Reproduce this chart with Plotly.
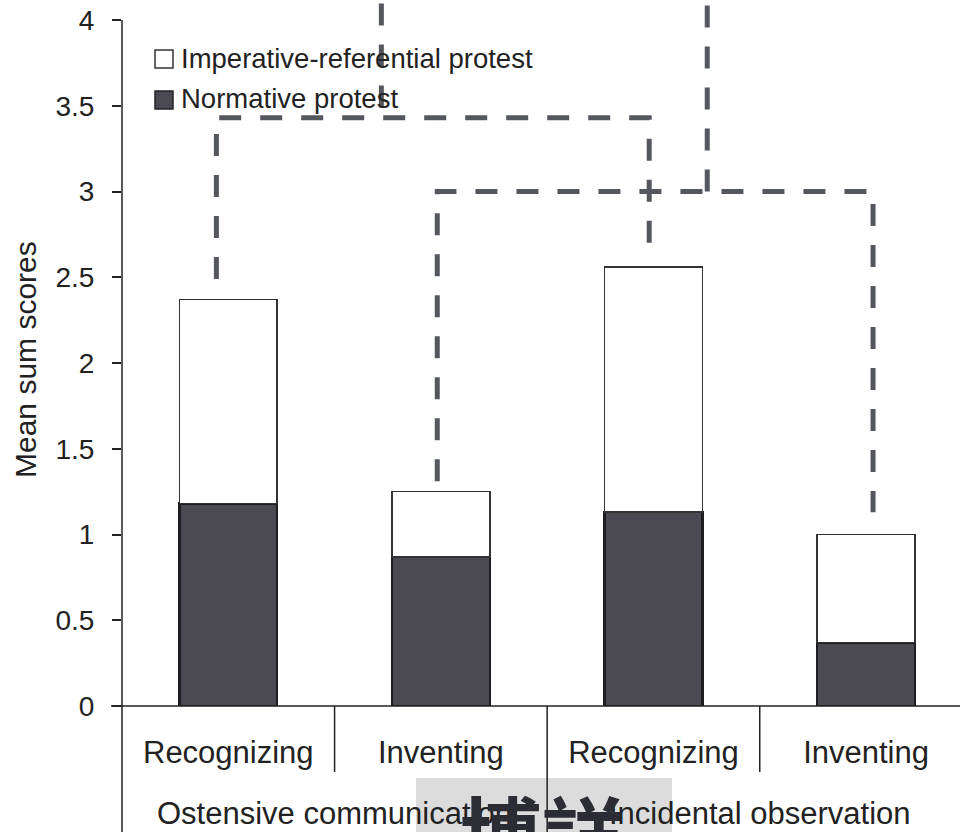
import plotly.graph_objects as go

# ---- data -------------------------------------------------------------
conditions = ["Recognizing", "Inventing", "Recognizing", "Inventing"]
groups = ["Ostensive communication", "Incidental observation"]
normative = [1.18, 0.87, 1.13, 0.37]
imperative_referential = [1.19, 0.38, 1.43, 0.63]
series_names = ["Imperative-referential protest", "Normative protest"]
y_ticks = [0, 0.5, 1, 1.5, 2, 2.5, 3, 3.5, 4]
y_tick_text = ["0", "0.5", "1", "1.5", "2", "2.5", "3", "3.5", "4"]
y_title = "Mean sum scores"
watermark_text = "博詳"

# ---- geometry / style -------------------------------------------------
W, H = 960, 832
ML, MR, MT, MB = 122, 0, 0, 126
PW, PH = W - ML - MR, H - MT - MB
X_RANGE = [-0.5, 3.442]
Y_RANGE = [0, 4.117]
FONT = "Liberation Sans, Arial, Helvetica, sans-serif"
TXT = "#222222"
DARK = "#4b4a52"
DASH_COL = "#55575e"

x = list(range(len(conditions)))
totals = [a + b for a, b in zip(normative, imperative_referential)]


def px_x(p):
    """pixel column -> paper x"""
    return (p - ML) / PW


def px_y(p):
    """pixel row -> paper y"""
    return (MT + PH - p) / PH


def data_x_to_paper(v):
    return (v - X_RANGE[0]) / (X_RANGE[1] - X_RANGE[0])


fig = go.Figure()
fig.add_trace(go.Bar(
    x=x, y=normative, name=series_names[1], width=0.46,
    marker=dict(color=DARK, line=dict(color="#1e1e22", width=2.5)),
))
fig.add_trace(go.Bar(
    x=x, y=imperative_referential, name=series_names[0], width=0.46,
    marker=dict(color="#ffffff", line=dict(color="#333333", width=1.5)),
))

shapes = []

# watermark patch behind the group labels
shapes.append(dict(type="rect", xref="paper", yref="paper",
                   x0=px_x(416), x1=px_x(672), y0=px_y(778), y1=px_y(H + 2),
                   fillcolor="#dcdcdc", line=dict(width=0), layer="below"))

axis_line = dict(color="#222222", width=1.5)
# y axis line continuing down as the left group divider
shapes.append(dict(type="line", xref="paper", yref="paper",
                   x0=0, x1=0, y0=4 / Y_RANGE[1], y1=px_y(H + 2), line=axis_line))
# x axis line
shapes.append(dict(type="line", xref="paper", yref="paper",
                   x0=px_x(111), x1=1, y0=0, y1=0, line=axis_line))
# divider between the two groups (full height)
shapes.append(dict(type="line", xref="paper", yref="paper",
                   x0=data_x_to_paper(1.5), x1=data_x_to_paper(1.5),
                   y0=0, y1=px_y(H + 2), line=axis_line))
# dividers between conditions within a group
for xv in (0.5, 2.5):
    shapes.append(dict(type="line", xref="paper", yref="paper",
                       x0=data_x_to_paper(xv), x1=data_x_to_paper(xv),
                       y0=0, y1=px_y(772), line=axis_line))

# significance brackets (dashed)
dash_line = dict(color=DASH_COL, width=5, dash="22px,19px")
brackets = [
    # (left bar, right bar, x nudge left, x nudge right, height, leg gaps)
    (0, 2, -0.056, -0.02, 3.43, 0.12, 0.07),
    (1, 3, -0.017, 0.033, 3.00, 0.06, 0.13),
]
for i, j, dl, dr, top, gl, gr in brackets:
    xl, xr = x[i] + dl, x[j] + dr
    yl, yr = totals[i] + gl, totals[j] + gr
    shapes.append(dict(type="path", xref="x", yref="y",
                       path=f"M {xl},{yl} L {xl},{top} L {xr},{top} L {xr},{yr}",
                       line=dash_line))
# connectors rising from the brackets
for xc, yb in ((0.72, 3.49), (2.253, 3.0)):
    shapes.append(dict(type="line", xref="x", yref="y",
                       x0=xc, x1=xc, y0=yb, y1=Y_RANGE[1] + 0.05, line=dash_line))

# legend squares
for cy, fill, lc in ((59, "#ffffff", "#333333"), (100, DARK, "#222222")):
    shapes.append(dict(type="rect", xref="paper", yref="paper",
                       x0=px_x(155), x1=px_x(173), y0=px_y(cy + 9), y1=px_y(cy - 9),
                       fillcolor=fill, line=dict(color=lc, width=1.5)))

annotations = []
# legend text
for cy, name in ((58, series_names[0]), (99, series_names[1])):
    annotations.append(dict(xref="paper", yref="paper", x=px_x(179), y=px_y(cy),
                            xanchor="left", yanchor="middle", showarrow=False,
                            text=name, font=dict(family=FONT, size=27.5, color=TXT)))
# y axis title
annotations.append(dict(xref="paper", yref="paper", x=px_x(25), y=px_y(360),
                        xanchor="center", yanchor="middle", showarrow=False,
                        textangle=-90, text=y_title,
                        font=dict(family=FONT, size=30, color=TXT)))
# group labels
for gx, g in zip((0.5, 2.5), groups):
    annotations.append(dict(xref="x", yref="paper", x=gx, y=px_y(813),
                            xanchor="center", yanchor="middle", showarrow=False,
                            text=g, font=dict(family=FONT, size=31, color=TXT)))
# watermark glyphs
annotations.append(dict(xref="paper", yref="paper", x=px_x(542), y=px_y(769),
                        xanchor="center", yanchor="top", showarrow=False,
                        text=f"<b>{watermark_text}</b>",
                        font=dict(family="Noto Sans CJK SC", size=82, color="#2c2c34")))

fig.update_layout(
    width=W, height=H,
    margin=dict(l=ML, r=MR, t=MT, b=MB, pad=0),
    paper_bgcolor="#ffffff", plot_bgcolor="#ffffff",
    barmode="stack", showlegend=False,
    shapes=shapes, annotations=annotations,
    xaxis=dict(range=X_RANGE, tickvals=x, ticktext=conditions, ticks="",
               showline=False, showgrid=False, zeroline=False,
               tickfont=dict(family=FONT, size=31, color=TXT),
               ticklabelstandoff=25),
    yaxis=dict(range=Y_RANGE, tickvals=y_ticks, ticktext=y_tick_text,
               ticks="outside", ticklen=9, tickwidth=1.5, tickcolor="#222222",
               showline=False, showgrid=False, zeroline=False,
               tickfont=dict(family=FONT, size=28, color=TXT),
               ticklabelstandoff=12),
)

fig.write_html("out.html")
